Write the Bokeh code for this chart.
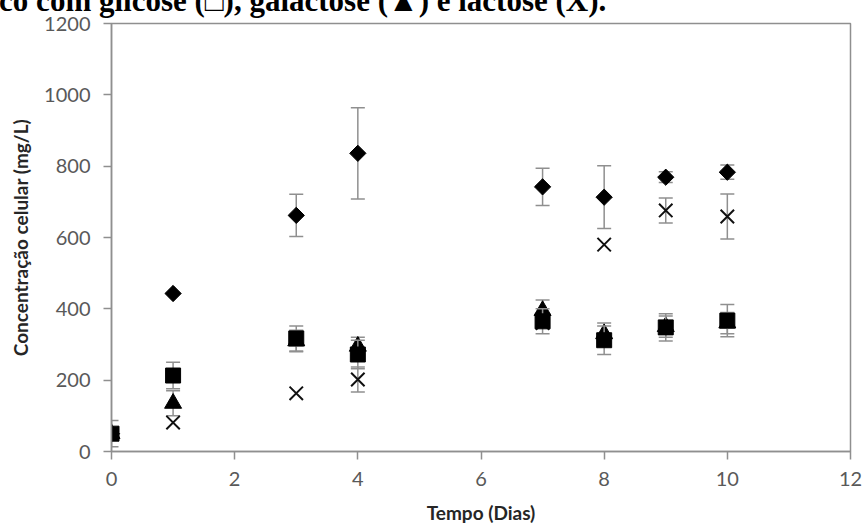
import numpy as np
from bokeh.plotting import figure
from bokeh.models import Range1d, FixedTicker
from bokeh.embed import file_html
from bokeh.resources import INLINE

# ---- data ----
days = [0, 1, 3, 4, 7, 8, 9, 10]

diamond_val = [50, 443, 662, 836, 742, 713, 769, 783]
diamond_err = [0, 0, 59, 128, 52, 88, 15, 20]

glicose_val = [50, 213, 317, 272, 365, 312, 348, 367]
glicose_err = [37, 37, 35, 40, 35, 40, 38, 45]

galactose_val = [50, 135, 310, 295, 395, 330, 350, 360]
galactose_err = [0, 35, 30, 25, 30, 30, 30, 30]

lactose_val = [50, 81, 163, 202, 360, 580, 676, 659]
lactose_err = [0, 0, 0, 35, 0, 0, 35, 63]

x_ticks = [0, 2, 4, 6, 8, 10, 12]
y_ticks = [0, 200, 400, 600, 800, 1000, 1200]

header = "ico com glicose (\u25a1), galactose (\u25b2) e lactose (X)."
x_title = "Tempo (Dias)"
y_title = "Concentração celular (mg/L)"

GRAY = "#8f8f8f"
TICK_COLOR = "#595959"

# the figure is pulled up 25px so that the header is cut by the top of the page
p = figure(width=862, height=551, output_backend="svg", toolbar_location=None,
           x_range=Range1d(0, 12), y_range=Range1d(0, 1200),
           min_border_left=111, min_border_right=12, min_border_top=0, min_border_bottom=75)
p.margin = (-25, 0, 0, 0)

# header (cut at the top of the picture in the reference)
p.title.text = header
p.title.text_font = "Liberation Serif"
p.title.text_font_style = "bold"
p.title.text_font_size = "31px"
p.title.text_color = "black"
p.title.standoff = 11
p.title.offset = -121

p.xgrid.visible = False
p.ygrid.visible = False
p.outline_line_color = GRAY
p.outline_line_width = 1.5
p.background_fill_color = "white"
p.border_fill_color = "white"

for ax in (p.xaxis[0], p.yaxis[0]):
    ax.axis_line_color = GRAY
    ax.axis_line_width = 1.5
    ax.major_tick_line_color = GRAY
    ax.major_tick_line_width = 1.5
    ax.major_tick_out = 8
    ax.major_tick_in = 0
    ax.minor_tick_line_color = None
    ax.major_label_text_font = "Lato"
    ax.major_label_text_font_size = "20px"
    ax.major_label_text_color = TICK_COLOR
    ax.axis_label_text_font = "Lato"
    ax.axis_label_text_font_style = "bold"
    ax.axis_label_text_font_size = "19px"
    ax.axis_label_text_color = "#262626"

p.xaxis.ticker = FixedTicker(ticks=x_ticks)
p.yaxis.ticker = FixedTicker(ticks=y_ticks)
p.xaxis.major_label_standoff = 12
p.yaxis.major_label_standoff = 13

p.xaxis.axis_label = x_title
p.xaxis.axis_label_standoff = 12
p.yaxis.axis_label = y_title
p.yaxis.axis_label_standoff = 9


def err_bars(vals, errs):
    xs, lo, hi = [], [], []
    for d, v, e in zip(days, vals, errs):
        if e > 0:
            xs.append(d); lo.append(v - e); hi.append(v + e)
    if xs:
        p.segment(x0=xs, y0=lo, x1=xs, y1=hi, line_color=GRAY, line_width=1.5)
        p.scatter(x=xs, y=lo, marker="dash", size=14, line_color=GRAY, line_width=1.5)
        p.scatter(x=xs, y=hi, marker="dash", size=14, line_color=GRAY, line_width=1.5)


# diamond series
err_bars(diamond_val, diamond_err)
p.scatter(x=days, y=diamond_val, marker="square", angle=np.pi / 4, size=11.5,
          fill_color="black", line_color="black")

# galactose (triangle)
err_bars(galactose_val, galactose_err)
p.scatter(x=days, y=galactose_val, marker="triangle", size=17,
          fill_color="black", line_color="black")

# lactose (x)
err_bars(lactose_val, lactose_err)
p.scatter(x=days, y=lactose_val, marker="x", size=19,
          line_color="#111111", line_width=2)

# glicose (square)
err_bars(glicose_val, glicose_err)
p.scatter(x=days, y=glicose_val, marker="square", size=15,
          fill_color="black", line_color="black")

open("out.html", "w").write(file_html(p, INLINE))
